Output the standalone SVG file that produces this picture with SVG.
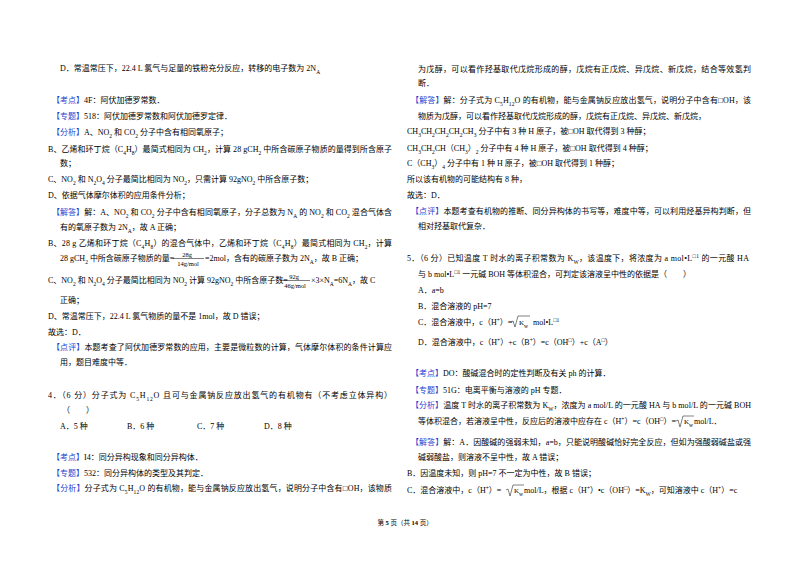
<svg xmlns="http://www.w3.org/2000/svg" width="800" height="565" viewBox="0 0 800 565">
<style>
text{font-family:"Liberation Serif","Noto Sans CJK SC",serif;font-size:8px;fill:#000}
.b{fill:#1f3fd0}
.s{font-size:5.5px;baseline-shift:sub}
.p{font-size:5.5px;baseline-shift:super}
.fr{font-size:7px}
.ft{font-size:6.5px}
line,path{stroke:#000;stroke-width:0.5;fill:none}
</style>
<rect width="800" height="565" fill="#fff"/>
<g id="left">
<text x="60" y="71">D．常温常压下，22.4 L  氯气与足量的铁粉充分反应，转移的电子数为 2N<tspan class="s">A</tspan></text>
<text x="52" y="103"><tspan class="b">【考点】</tspan>4F：阿伏加德罗常数．</text>
<text x="52" y="119"><tspan class="b">【专题】</tspan>518：阿伏加德罗常数和阿伏加德罗定律．</text>
<text x="52" y="135"><tspan class="b">【分析】</tspan>A、NO<tspan class="s">2</tspan> 和 CO<tspan class="s">2</tspan> 分子中含有相同氧原子；</text>
<text x="48" y="152" textLength="344" lengthAdjust="spacing">B、乙烯和环丁烷（C<tspan class="s">4</tspan>H<tspan class="s">8</tspan>）最简式相同为 CH<tspan class="s">2</tspan>，计算 28 gCH<tspan class="s">2</tspan> 中所含碳原子物质的量得到所含原子</text>
<text x="60" y="166">数；</text>
<text x="48" y="182">C、NO<tspan class="s">2</tspan> 和 N<tspan class="s">2</tspan>O<tspan class="s">4</tspan> 分子最简比相同为 NO<tspan class="s">2</tspan>，只需计算 92gNO<tspan class="s">2</tspan> 中所含原子数；</text>
<text x="48" y="198">D、依据气体摩尔体积的应用条件分析；</text>
<text x="52" y="215" textLength="340" lengthAdjust="spacing"><tspan class="b">【解答】</tspan>解：A、NO<tspan class="s">2</tspan> 和 CO<tspan class="s">2</tspan> 分子中含有相同氧原子，分子总数为 N<tspan class="s">A</tspan> 的 NO<tspan class="s">2</tspan> 和 CO<tspan class="s">2</tspan> 混合气体含</text>
<text x="60" y="230">有的氧原子数为 2N<tspan class="s">A</tspan>，故 A 正确；</text>
<text x="48" y="246" textLength="344" lengthAdjust="spacing">B、28 g 乙烯和环丁烷（C<tspan class="s">4</tspan>H<tspan class="s">8</tspan>）的混合气体中，乙烯和环丁烷（C<tspan class="s">4</tspan>H<tspan class="s">8</tspan>）最简式相同为 CH<tspan class="s">2</tspan>，计算</text>
<text x="60" y="261">28 gCH<tspan class="s">2</tspan> 中所含碳原子物质的量=</text>
<text x="187" y="257" class="ft" text-anchor="middle">28g</text>
<line x1="173" y1="258.5" x2="204" y2="258.5"/>
<text x="188" y="266" class="ft" text-anchor="middle">14g/mol</text>
<text x="205" y="261">=2mol，含有的碳原子数为 2N<tspan class="s">A</tspan>，故 B 正确；</text>
<text x="48" y="283">C、NO<tspan class="s">2</tspan> 和 N<tspan class="s">2</tspan>O<tspan class="s">4</tspan> 分子最简比相同为 NO<tspan class="s">2</tspan> 计算 92gNO<tspan class="s">2</tspan> 中所含原子数=</text>
<text x="294" y="279" class="ft" text-anchor="middle">92g</text>
<line x1="280" y1="280.5" x2="310" y2="280.5"/>
<text x="295" y="288" class="ft" text-anchor="middle">46g/mol</text>
<text x="311" y="283">×3×N<tspan class="s">A</tspan>=6N<tspan class="s">A</tspan>，故 C</text>
<text x="60" y="303">正确；</text>
<text x="48" y="319">D、常温常压下，22.4 L  氯气物质的量不是 1mol，故 D 错误；</text>
<text x="48" y="335">故选：D．</text>
<text x="52" y="350" textLength="340" lengthAdjust="spacing"><tspan class="b">【点评】</tspan>本题考查了阿伏加德罗常数的应用，主要是微粒数的计算，气体摩尔体积的条件计算应</text>
<text x="60" y="365">用，题目难度中等．</text>
<text x="48" y="398" textLength="344" lengthAdjust="spacing">4．（6 分）分子式为 C<tspan class="s">5</tspan>H<tspan class="s">12</tspan>O 且可与金属钠反应放出氢气的有机物有（不考虑立体异构）</text>
<text x="62" y="413">（　　）</text>
<text x="60" y="429">A．5 种</text>
<text x="127" y="429">B．6 种</text>
<text x="197" y="429">C．7 种</text>
<text x="264" y="429">D．8 种</text>
<text x="52" y="460"><tspan class="b">【考点】</tspan>I4：同分异构现象和同分异构体．</text>
<text x="52" y="476"><tspan class="b">【专题】</tspan>532：同分异构体的类型及其判定．</text>
<text x="52" y="491" textLength="340" lengthAdjust="spacing"><tspan class="b">【分析】</tspan>分子式为 C<tspan class="s">5</tspan>H<tspan class="s">12</tspan>O 的有机物，能与金属钠反应放出氢气，说明分子中含有□OH，该物质</text>
</g>
<g id="right">
<text x="418" y="72" textLength="333" lengthAdjust="spacing">为戊醇，可以看作羟基取代戊烷形成的醇，戊烷有正戊烷、异戊烷、新戊烷，结合等效氢判</text>
<text x="418" y="86">断．</text>
<text x="411" y="103" textLength="340" lengthAdjust="spacing"><tspan class="b">【解答】</tspan>解：分子式为 C<tspan class="s">5</tspan>H<tspan class="s">12</tspan>O 的有机物，能与金属钠反应放出氢气，说明分子中含有□OH，该</text>
<text x="418" y="119">物质为戊醇，可以看作羟基取代戊烷形成的醇，戊烷有正戊烷、异戊烷、新戊烷，</text>
<text x="407" y="134">CH<tspan class="s">3</tspan>CH<tspan class="s">2</tspan>CH<tspan class="s">2</tspan>CH<tspan class="s">2</tspan>CH<tspan class="s">3</tspan> 分子中有 3 种 H 原子，被□OH 取代得到 3 种醇；</text>
<text x="407" y="151">CH<tspan class="s">3</tspan>CH<tspan class="s">2</tspan>CH（CH<tspan class="s">3</tspan>）<tspan class="s">2</tspan> 分子中有 4 种 H 原子，被□OH 取代得到 4 种醇；</text>
<text x="407" y="166">C（CH<tspan class="s">3</tspan>）<tspan class="s">4</tspan> 分子中有 1 种 H 原子，被□OH 取代得到 1 种醇；</text>
<text x="407" y="182">所以该有机物的可能结构有 8 种，</text>
<text x="407" y="198">故选：D．</text>
<text x="411" y="214" textLength="340" lengthAdjust="spacing"><tspan class="b">【点评】</tspan>本题考查有机物的推断、同分异构体的书写等，难度中等，可以利用烃基异构判断，但</text>
<text x="418" y="229">相对羟基取代复杂．</text>
<text x="407" y="261" textLength="342" lengthAdjust="spacing">5．（6 分）已知温度 T 时水的离子积常数为 K<tspan class="s">W</tspan>，该温度下，将浓度为 a mol•L<tspan class="p">□1</tspan> 的一元酸 HA</text>
<text x="418" y="277">与 b mol•L<tspan class="p">□1</tspan> 一元碱 BOH 等体积混合，可判定该溶液呈中性的依据是（　　）</text>
<text x="418" y="293">A．a=b</text>
<text x="418" y="309">B．混合溶液的 pH=7</text>
<text x="418" y="325">C．混合溶液中，c（H<tspan class="p">+</tspan>）=</text>
<path d="M511,322 L513,321 L515,327 L518,316 L530,316"/>
<text x="519" y="325" class="fr">K<tspan class="s">w</tspan></text>
<text x="533" y="325"> mol•L<tspan class="p">□1</tspan></text>
<text x="418" y="345">D．混合溶液中，c（H<tspan class="p">+</tspan>）+c（B<tspan class="p">+</tspan>）=c（OH<tspan class="p">□</tspan>）+c（A<tspan class="p">□</tspan>）</text>
<text x="411" y="376"><tspan class="b">【考点】</tspan>DO：酸碱混合时的定性判断及有关 ph 的计算．</text>
<text x="411" y="393"><tspan class="b">【专题】</tspan>51G：电离平衡与溶液的 pH 专题．</text>
<text x="411" y="408" textLength="340" lengthAdjust="spacing"><tspan class="b">【分析】</tspan>温度 T 时水的离子积常数为 K<tspan class="s">W</tspan>，浓度为 a mol/L 的一元酸 HA 与 b mol/L 的一元碱 BOH</text>
<text x="418" y="424">等体积混合，若溶液呈中性，反应后的溶液中应存在 c（H<tspan class="p">+</tspan>）=c（OH<tspan class="p">□</tspan>）=</text>
<path d="M676,421 L678,420 L680,427 L683,416 L694,416"/>
<text x="684" y="424" class="fr">K<tspan class="s">w</tspan></text>
<text x="694" y="424">mol/L．</text>
<text x="411" y="445" textLength="340" lengthAdjust="spacing"><tspan class="b">【解答】</tspan>解：A．因酸碱的强弱未知，a=b，只能说明酸碱恰好完全反应，但如为强酸弱碱盐或强</text>
<text x="418" y="460">碱弱酸盐，则溶液不呈中性，故 A 错误；</text>
<text x="407" y="476">B．因温度未知，则 pH=7 不一定为中性，故 B 错误；</text>
<text x="407" y="493">C．混合溶液中，c（H<tspan class="p">+</tspan>）=</text>
<path d="M506,490 L508,489 L510,496 L513,485 L524,485"/>
<text x="514" y="493" class="fr">K<tspan class="s">w</tspan></text>
<text x="524" y="493">mol/L，根据 c（H<tspan class="p">+</tspan>）•c（OH<tspan class="p">□</tspan>）=K<tspan class="s">W</tspan>，可知溶液中 c（H<tspan class="p">+</tspan>）=c</text>
</g>
<text x="405" y="525" text-anchor="middle" style="font-size:6.5px">第 <tspan font-weight="bold">5</tspan> 页（共 <tspan font-weight="bold">14</tspan> 页）</text>
</svg>
